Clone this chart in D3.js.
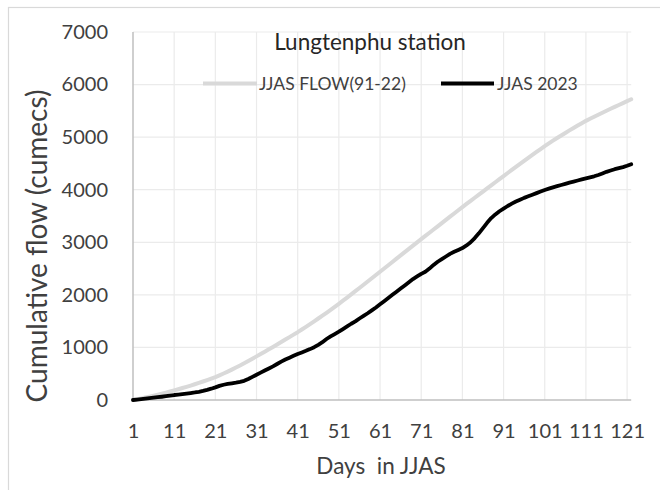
<!DOCTYPE html>
<html>
<head>
<meta charset="utf-8">
<script src="https://cdn.jsdelivr.net/npm/d3@7"></script>
<style>
  body { margin: 0; background: #fff; }
  svg { display: block; }
  text { font-family: Lato, "Noto Sans", sans-serif; fill: #404040; }
</style>
</head>
<body>
<svg id="chart" width="660" height="490"></svg>
<script>
// Day index within June–September (JJAS)
const days = d3.range(1, 123);
const dayTicks = [1, 11, 21, 31, 41, 51, 61, 71, 81, 91, 101, 111, 121];
const flowTicks = [0, 1000, 2000, 3000, 4000, 5000, 6000, 7000];
const seriesNames = ["JJAS FLOW(91-22)", "JJAS 2023"];

// Cumulative flow (cumecs), mean season 1991–2022
const climFlow = [
  0, 15, 31, 48, 65, 83, 101, 120, 140, 161, 183,
  205, 228, 251, 275, 300, 326, 352, 379, 407, 436,
  469, 504, 540, 578, 617, 657, 698, 741, 785, 830,
  874, 919, 964, 1010, 1056, 1103, 1150, 1196, 1243, 1290,
  1340, 1391, 1443, 1496, 1550, 1604, 1659, 1715, 1772, 1830,
  1889, 1949, 2009, 2070, 2131, 2192, 2254, 2316, 2378, 2440,
  2502, 2564, 2626, 2688, 2750, 2812, 2874, 2936, 2998, 3060,
  3121, 3182, 3243, 3304, 3365, 3426, 3487, 3548, 3609, 3670,
  3729, 3788, 3847, 3906, 3965, 4024, 4083, 4142, 4201, 4260,
  4318, 4376, 4434, 4491, 4548, 4605, 4662, 4718, 4774, 4830,
  4882, 4933, 4983, 5032, 5080, 5128, 5175, 5221, 5266, 5310,
  5350, 5389, 5427, 5465, 5502, 5539, 5576, 5612, 5648, 5684, 5720
];

// Cumulative flow (cumecs), season 2023
const flow2023 = [
  0, 8, 17, 26, 35, 44, 53, 62, 72, 83, 95,
  104, 113, 122, 132, 143, 156, 172, 192, 215, 240,
  268, 290, 305, 318, 330, 345, 365, 400, 440, 480,
  520, 560, 600, 640, 685, 730, 770, 805, 840, 875,
  905, 935, 968, 1005, 1050, 1100, 1160, 1210, 1255, 1300,
  1350, 1400, 1450, 1495, 1550, 1600, 1650, 1705, 1760, 1820,
  1880, 1940, 2000, 2060, 2120, 2180, 2240, 2300, 2350, 2400,
  2440, 2500, 2570, 2630, 2680, 2730, 2780, 2820, 2855, 2890,
  2940, 3000, 3080, 3170, 3270, 3370, 3460, 3530, 3590, 3640,
  3690, 3735, 3775, 3810, 3845, 3875, 3905, 3935, 3965, 3995,
  4020, 4045, 4068, 4090, 4112, 4135, 4155, 4175, 4195, 4215,
  4235, 4255, 4280, 4310, 4340, 4365, 4390, 4410, 4430, 4455, 4485
];

const svg = d3.select("#chart");
const plot = { left: 133, right: 631.2, top: 32, bottom: 400 };

const x = d3.scaleLinear().domain([1, 122]).range([plot.left, plot.right]);
const y = d3.scaleLinear().domain([0, 7000]).range([plot.bottom, plot.top]);

// Chart area frame
svg.append("rect")
  .attr("x", 8.5).attr("y", 7.5)
  .attr("width", 700).attr("height", 600)
  .attr("fill", "#fff").attr("stroke", "#d9d9d9").attr("stroke-width", 1.2);

// Gridlines
const grid = svg.append("g").attr("stroke", "#ebebeb").attr("stroke-width", 1.2);
grid.selectAll("line.h").data(flowTicks.filter(d => d > 0)).join("line")
  .attr("x1", plot.left).attr("x2", plot.right)
  .attr("y1", d => y(d)).attr("y2", d => y(d));
grid.selectAll("line.v").data(dayTicks.filter(d => d > 1)).join("line")
  .attr("x1", d => x(d)).attr("x2", d => x(d))
  .attr("y1", plot.top).attr("y2", plot.bottom);

// Axes
const yAxis = svg.append("g")
  .attr("transform", `translate(${plot.left},0)`)
  .call(d3.axisLeft(y).tickValues(flowTicks).tickSize(0).tickPadding(25)
    .tickFormat(d3.format("d")));
yAxis.select(".domain").remove();
yAxis.selectAll("text").attr("font-size", 20).attr("fill", "#404040")
  .style("font-family", "Lato, 'Noto Sans', sans-serif");

const xAxis = svg.append("g")
  .attr("transform", `translate(0,${plot.bottom})`)
  .call(d3.axisBottom(x).tickValues(dayTicks).tickSize(0).tickFormat(d3.format("d")));
xAxis.select(".domain").remove();
xAxis.selectAll("text").attr("font-size", 20).attr("fill", "#404040")
  .attr("y", 31).attr("dy", "0.35em")
  .style("font-family", "Lato, 'Noto Sans', sans-serif");

svg.append("line")
  .attr("x1", plot.left).attr("x2", plot.left)
  .attr("y1", plot.top).attr("y2", plot.bottom)
  .attr("stroke", "#bfbfbf").attr("stroke-width", 1.5);
svg.append("line")
  .attr("x1", plot.left).attr("x2", plot.right)
  .attr("y1", plot.bottom).attr("y2", plot.bottom)
  .attr("stroke", "#bfbfbf").attr("stroke-width", 1.5);

// Series lines
const line = d3.line().x((d, i) => x(days[i])).y(d => y(d));
svg.append("path").datum(climFlow)
  .attr("d", line).attr("fill", "none")
  .attr("stroke", "#d9d9d9").attr("stroke-width", 4)
  .attr("stroke-linejoin", "round").attr("stroke-linecap", "round");
svg.append("path").datum(flow2023)
  .attr("d", line).attr("fill", "none")
  .attr("stroke", "#000").attr("stroke-width", 3.8)
  .attr("stroke-linejoin", "round").attr("stroke-linecap", "round");

// Title
svg.append("text")
  .attr("x", 370).attr("y", 50)
  .attr("text-anchor", "middle").attr("font-size", 22.5)
  .style("fill", "#262626")
  .text("Lungtenphu station");

// Legend
const legend = [
  { name: seriesNames[0], color: "#d9d9d9", x1: 203, x2: 257, tx: 259 },
  { name: seriesNames[1], color: "#000", x1: 441, x2: 494, tx: 497 }
];
const lg = svg.append("g");
legend.forEach(l => {
  lg.append("line")
    .attr("x1", l.x1).attr("x2", l.x2).attr("y1", 83.5).attr("y2", 83.5)
    .attr("stroke", l.color).attr("stroke-width", 4);
  lg.append("text")
    .attr("x", l.tx).attr("y", 83.5).attr("dy", "0.35em")
    .attr("font-size", 17.5)
    .text(l.name);
});

// Axis titles
svg.append("text")
  .attr("transform", "translate(47,246) rotate(-90)")
  .attr("text-anchor", "middle").attr("font-size", 28)
  .text("Cumulative flow (cumecs)");
svg.append("text")
  .attr("x", 381).attr("y", 474)
  .attr("text-anchor", "middle").attr("font-size", 22.5)
  .style("white-space", "pre")
  .text("Days  in JJAS");
</script>
</body>
</html>
